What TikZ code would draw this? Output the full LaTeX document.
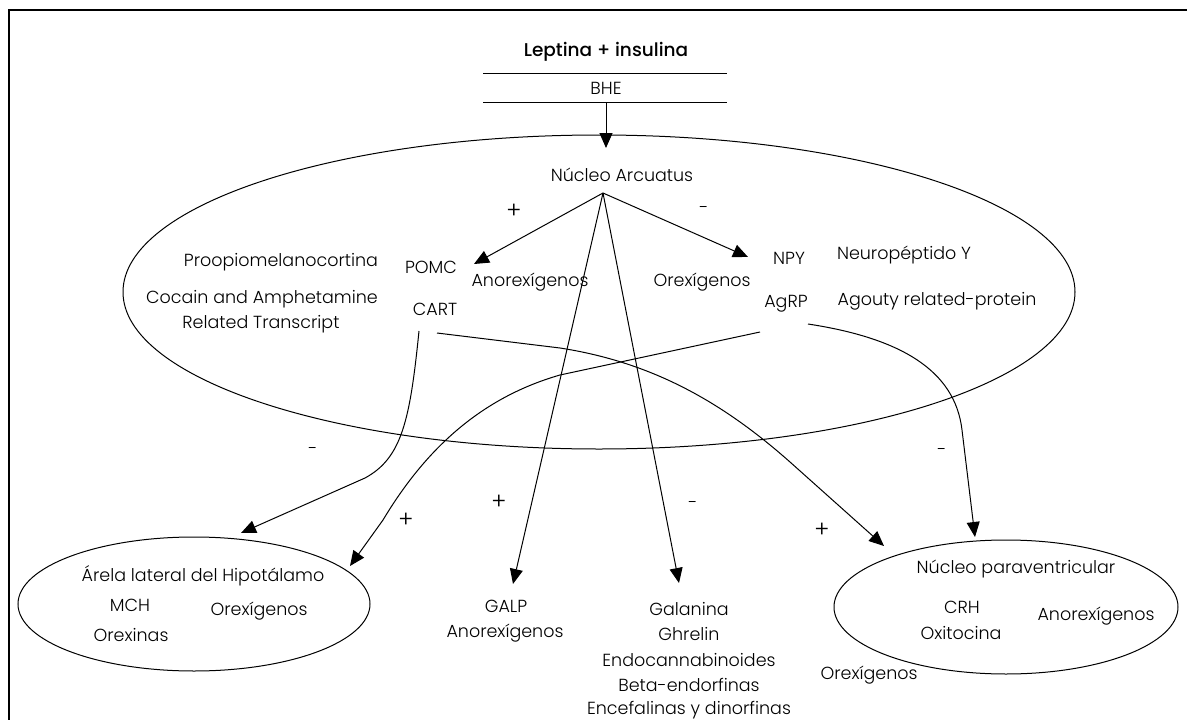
\documentclass[tikz,border=0pt]{standalone}
\usepackage{fontspec}
\setmainfont{Poppins Light}
\newfontfamily\medfont{Poppins Medium}
\usetikzlibrary{arrows.meta,shapes.geometric}
\begin{document}
\begin{tikzpicture}[x=1pt,y=-1pt,
  lbl/.style={font=\fontsize{17.5}{20}\selectfont, inner sep=0pt, anchor=center},
  sgn/.style={font=\fontsize{17.5}{20}\selectfont, inner sep=0pt},
  plus/.style={font=\fontsize{23}{25}\selectfont, inner sep=0pt},
  arr/.style={line width=1pt, -{Triangle[length=15pt,width=13pt]}},
  ell/.style={draw, line width=1pt, ellipse}]
\useasboundingbox (0,0) rectangle (1187,720);
% frame
\draw[line width=1.4pt] (9,720) -- (9,10) -- (1187,10);
% top
\node[font=\medfont\fontsize{18.5}{21}\selectfont, inner sep=0pt] (lep) at (606,52) {Leptina + insulina};
\draw[line width=1pt] (483,73) -- (727,73);
\node[lbl] (bhe) at (606,88) {BHE};
\draw[line width=1pt] (483,102) -- (727,102);
\coordinate (bhebot) at (606,102);
% big ellipse
\draw[line width=1pt] (599,292) ellipse [x radius=476, y radius=157];
\node[lbl] (arc) at (622,175) {Núcleo Arcuatus};
\coordinate (apex) at (603,193);
\coordinate (arctop) at (606,148);
\draw[arr] (bhebot) -- (arctop);
% left inner
\node[lbl] (proo) at (281,262) {Proopiomelanocortina};
\node[lbl] (pomc) at (431,267) {POMC};
\node[lbl] (anor1) at (530,282) {Anorexígenos};
\node[lbl] (coc) at (262,299) {Cocain and Amphetamine};
\node[lbl] (rel) at (261,324) {Related Transcript};
\node[lbl] (cart) at (435,309) {CART};
% right inner
\node[lbl] (orex1) at (702,282) {Orexígenos};
\node[lbl] (npy) at (789,258) {NPY};
\node[lbl] (neur) at (904,255) {Neuropéptido Y};
\node[lbl] (agrp) at (786,304) {AgRP};
\node[lbl] (agou) at (937,301) {Agouty related-protein};
\coordinate (pomctip) at (474,264);
\coordinate (npytip) at (748,257);
\draw[arr] (apex) -- (pomctip);
\draw[arr] (apex) -- (npytip);
\node[plus] at (514,211) {+};
\node[sgn] at (704,210) {-};
% lateral ellipse
\node[ell, minimum width=352pt, minimum height=134pt, inner sep=0pt] (lat) at (194,604) {};
\node[lbl] (are) at (203,576) {Árela lateral del Hipotálamo};
\node[lbl] (mch) at (130,605) {MCH};
\node[lbl] (orex2) at (259,611) {Orexígenos};
\node[lbl] (orexin) at (131,635) {Orexinas};
% GALP
\node[lbl] (galp) at (506,606) {GALP};
\node[lbl] (anor2) at (505,633) {Anorexígenos};
% Galanina stack
\node[lbl] (gal) at (689,609) {Galanina};
\node[lbl] (ghr) at (689,634) {Ghrelin};
\node[lbl] (endo) at (689,660) {Endocannabinoides};
\node[lbl] (beta) at (689,685) {Beta-endorfinas};
\node[lbl] (ence) at (689,710) {Encefalinas y dinorfinas};
\node[lbl] (orex3) at (869,675) {Orexígenos};
% paraventricular ellipse
\node[ell, minimum width=344pt, minimum height=134pt, inner sep=0pt] (para) at (1006,607) {};
\node[lbl] (nucp) at (1016,569) {Núcleo paraventricular};
\node[lbl] (crh) at (962,607) {CRH};
\node[lbl] (oxi) at (961,633) {Oxitocina};
\node[lbl] (anor3) at (1096,616) {Anorexígenos};
% arrows to bottom
\coordinate (galptip) at (513,584);
\coordinate (galtip) at (679,583);
\draw[arr] (apex) -- (galptip);
\draw[arr] (apex) -- (galtip);
\coordinate (cartA) at (419,331);
\coordinate (cartB) at (437,333);
\coordinate (agA) at (760,332);
\coordinate (agB) at (808,324);
\coordinate (lattip) at (241,533);
\coordinate (lattip2) at (350,566);
\coordinate (paratip) at (884,546);
\coordinate (paratip2) at (975,537);
\draw[arr] (cartA) .. controls (410,420) and (402,458) .. (365,478) -- (lattip);
\draw[arr] (cartB) -- (560,348) .. controls (650,362) and (720,400) .. (790,462) -- (paratip);
\draw[arr] (agA) -- (560,375) .. controls (480,398) and (425,450) .. (383,520) -- (lattip2);
\draw[arr] (agB) .. controls (900,338) and (955,370) .. (962,430) -- (paratip2);
% signs
\node[sgn] at (313,451) {-};
\node[plus] at (406,520) {+};
\node[plus] at (499,502) {+};
\node[sgn] at (693,505) {-};
\node[plus] at (822,530) {+};
\node[sgn] at (942,452) {-};
\end{tikzpicture}
\end{document}
